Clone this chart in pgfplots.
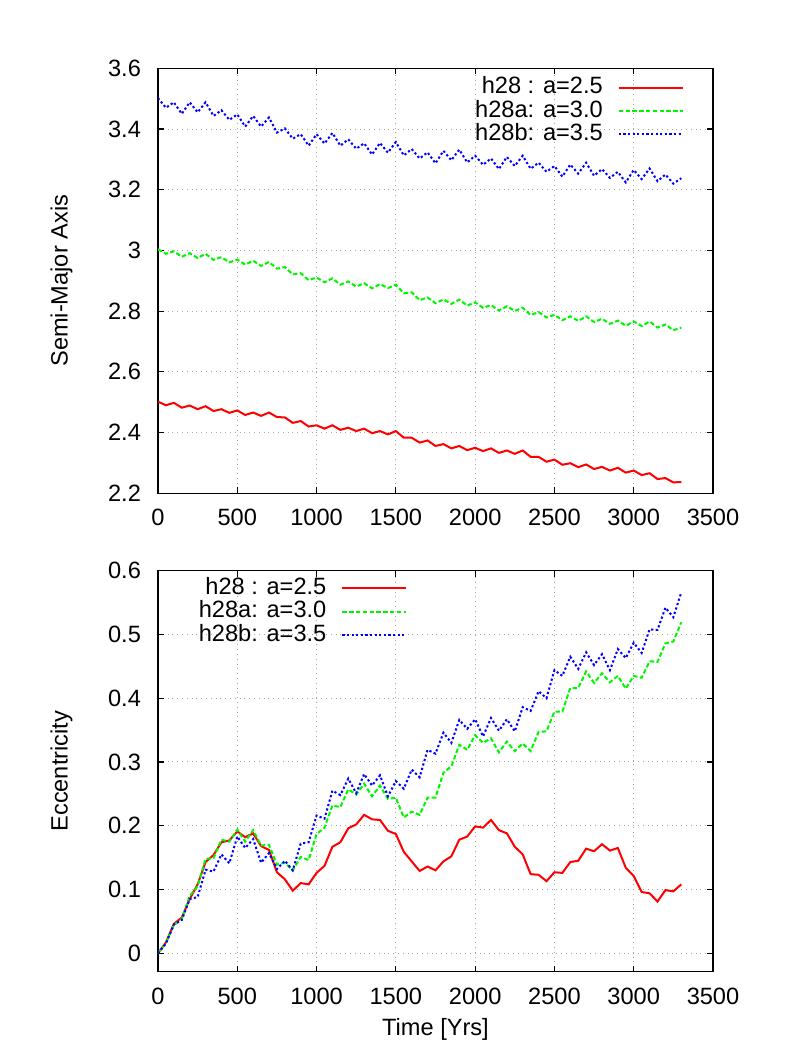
\documentclass[border=0pt]{standalone}
\usepackage{fontspec}
\setmainfont{Liberation Sans}
\usepackage{pgfplots}
\pgfplotsset{compat=1.18}

\definecolor{gpred}{RGB}{255,0,0}
\definecolor{gpgreen}{RGB}{0,245,0}
\definecolor{gpblue}{RGB}{0,0,255}

\pgfplotsset{
  gpaxis/.style={
    scale only axis,
    width=277.5pt,
    xmin=0, xmax=3500,
    xtick={0,500,...,3500},
    grid=major,
    grid style={gray!70, dotted, line width=0.5pt},
    axis line style={line width=0.6pt},
    major tick length=3pt,
    tick style={black, line width=0.6pt},
    tick align=inside,
    ticklabel style={font=\fontsize{11.8}{13}\selectfont},
    label style={font=\fontsize{11.8}{13}\selectfont},
    /pgf/number format/assume math mode=true,
    /pgf/number format/set thousands separator={},
    scaled ticks=false,
    xticklabel style={yshift=-4.5pt},
    yticklabel style={xshift=-5pt},
    legend cell align=right,
    legend plot pos=right,
    legend image code/.code={\path (0pt,0pt); \draw[##1] (7.5pt,0pt) -- (39.5pt,0pt);},
    legend style={draw=none, fill=none, inner sep=0pt, row sep=0pt,
      font=\fontsize{11.8}{13}\selectfont,
      nodes={inner xsep=0pt, inner ysep=0.3pt, text height=8.6pt, text depth=2.5pt}},
  },
  redline/.style={gpred, line width=1pt},
  greenline/.style={gpgreen, line width=1pt, dash pattern=on 2.2pt off 1.2pt},
  blueline/.style={gpblue, line width=1pt, dash pattern=on 1.1pt off 1.2pt},
}

\begin{document}
\begin{tikzpicture}
\path[use as bounding box] (0pt,0pt) rectangle (394.5pt,527pt);

% ---------- top panel: semi-major axis ----------
\begin{axis}[gpaxis,
  at={(79pt,280.35pt)}, anchor=south west,
  height=212.5pt,
  ymin=2.2, ymax=3.6,
  ytick={2.2,2.4,...,3.6},
  yticklabel style={/pgf/number format/fixed, /pgf/number format/precision=1},
  ylabel={Semi-Major Axis},
  ylabel style={at={(axis description cs:-0.174,0.5)}, anchor=center},
  legend style={at={(axis description cs:0.948,0.983)}, anchor=north east},
]
\addplot[redline] table {
0 2.502
50 2.490
100 2.498
150 2.482
200 2.489
250 2.477
300 2.487
350 2.471
400 2.477
450 2.465
500 2.473
550 2.458
600 2.466
650 2.455
700 2.466
750 2.451
800 2.450
850 2.432
900 2.438
950 2.420
1000 2.424
1050 2.413
1100 2.424
1150 2.409
1200 2.416
1250 2.405
1300 2.413
1350 2.398
1400 2.405
1450 2.394
1500 2.405
1550 2.383
1600 2.383
1650 2.367
1700 2.374
1750 2.356
1800 2.362
1850 2.348
1900 2.356
1950 2.342
2000 2.350
2050 2.339
2100 2.348
2150 2.333
2200 2.341
2250 2.330
2300 2.341
2350 2.320
2400 2.320
2450 2.304
2500 2.311
2550 2.294
2600 2.299
2650 2.286
2700 2.295
2750 2.280
2800 2.287
2850 2.275
2900 2.284
2950 2.268
3000 2.275
3050 2.260
3100 2.266
3150 2.247
3200 2.250
3250 2.236
3300 2.237
};
\addlegendentry{h28 : a=2.5}
\addplot[greenline] table {
0 3.004
50 2.989
100 2.997
150 2.979
200 2.991
250 2.975
300 2.989
350 2.969
400 2.978
450 2.961
500 2.970
550 2.953
600 2.966
650 2.949
700 2.962
750 2.940
800 2.945
850 2.921
900 2.925
950 2.902
1000 2.911
1050 2.895
1100 2.908
1150 2.887
1200 2.898
1250 2.881
1300 2.892
1350 2.875
1400 2.889
1450 2.876
1500 2.887
1550 2.859
1600 2.862
1650 2.836
1700 2.845
1750 2.826
1800 2.839
1850 2.824
1900 2.838
1950 2.818
2000 2.829
2050 2.811
2100 2.820
2150 2.802
2200 2.816
2250 2.801
2300 2.811
2350 2.787
2400 2.797
2450 2.779
2500 2.788
2550 2.770
2600 2.783
2650 2.768
2700 2.783
2750 2.764
2800 2.775
2850 2.758
2900 2.769
2950 2.752
3000 2.766
3050 2.751
3100 2.766
3150 2.746
3200 2.756
3250 2.737
3300 2.746
};
\addlegendentry{h28a: a=3.0}
\addplot[blueline] table {
0 3.502
50 3.470
100 3.488
150 3.450
200 3.488
250 3.455
300 3.488
350 3.443
400 3.462
450 3.430
500 3.448
550 3.408
600 3.443
650 3.408
700 3.438
750 3.388
800 3.402
850 3.368
900 3.383
950 3.345
1000 3.383
1050 3.352
1100 3.387
1150 3.345
1200 3.366
1250 3.335
1300 3.353
1350 3.316
1400 3.354
1450 3.322
1500 3.357
1550 3.313
1600 3.334
1650 3.303
1700 3.323
1750 3.287
1800 3.328
1850 3.297
1900 3.332
1950 3.290
2000 3.312
2050 3.282
2100 3.303
2150 3.268
2200 3.308
2250 3.278
2300 3.312
2350 3.269
2400 3.289
2450 3.259
2500 3.278
2550 3.243
2600 3.283
2650 3.253
2700 3.289
2750 3.246
2800 3.268
2850 3.239
2900 3.259
2950 3.224
3000 3.265
3050 3.235
3100 3.270
3150 3.228
3200 3.250
3250 3.220
3300 3.238
};
\addlegendentry{h28b: a=3.5}
\end{axis}

% ---------- bottom panel: eccentricity ----------
\begin{axis}[gpaxis,
  at={(79pt,41.15pt)}, anchor=south west,
  height=200.5pt,
  ymin=-0.029, ymax=0.6,
  ytick={0,0.1,...,0.6},
  yticklabel style={/pgf/number format/fixed, /pgf/number format/precision=1},
  ylabel={Eccentricity},
  ylabel style={at={(axis description cs:-0.174,0.5)}, anchor=center},
  xlabel={Time [Yrs]},
  xlabel style={at={(axis description cs:0.5,-0.145)}, anchor=center},
  legend style={at={(axis description cs:0.450,0.986)}, anchor=north east},
]
\addplot[redline] table {
0 0.000
50 0.017
100 0.046
150 0.056
200 0.085
250 0.108
300 0.143
350 0.154
400 0.174
450 0.177
500 0.191
550 0.182
600 0.188
650 0.168
700 0.162
750 0.127
800 0.116
850 0.098
900 0.110
950 0.108
1000 0.126
1050 0.137
1100 0.167
1150 0.174
1200 0.196
1250 0.202
1300 0.217
1350 0.210
1400 0.209
1450 0.192
1500 0.187
1550 0.159
1600 0.144
1650 0.129
1700 0.136
1750 0.130
1800 0.144
1850 0.152
1900 0.178
1950 0.183
2000 0.199
2050 0.197
2100 0.209
2150 0.193
2200 0.188
2250 0.167
2300 0.155
2350 0.124
2400 0.123
2450 0.113
2500 0.127
2550 0.126
2600 0.143
2650 0.145
2700 0.164
2750 0.160
2800 0.171
2850 0.161
2900 0.165
2950 0.134
3000 0.121
3050 0.096
3100 0.094
3150 0.081
3200 0.099
3250 0.097
3300 0.108
};
\addlegendentry{h28 : a=2.5}
\addplot[greenline] table {
0 0.000
50 0.016
100 0.044
150 0.054
200 0.090
250 0.105
300 0.148
350 0.149
400 0.178
450 0.175
500 0.194
550 0.175
600 0.193
650 0.169
700 0.170
750 0.139
800 0.142
850 0.130
900 0.151
950 0.146
1000 0.187
1050 0.197
1100 0.232
1150 0.229
1200 0.257
1250 0.249
1300 0.266
1350 0.246
1400 0.263
1450 0.242
1500 0.244
1550 0.213
1600 0.222
1650 0.217
1700 0.244
1750 0.244
1800 0.283
1850 0.293
1900 0.327
1950 0.319
2000 0.342
2050 0.330
2100 0.337
2150 0.315
2200 0.332
2250 0.317
2300 0.329
2350 0.317
2400 0.347
2450 0.348
2500 0.379
2550 0.379
2600 0.416
2650 0.416
2700 0.442
2750 0.424
2800 0.439
2850 0.425
2900 0.435
2950 0.415
3000 0.435
3050 0.432
3100 0.458
3150 0.457
3200 0.486
3250 0.489
3300 0.519
};
\addlegendentry{h28a: a=3.0}
\addplot[blueline] table {
0 0.000
50 0.015
100 0.045
150 0.052
200 0.085
250 0.088
300 0.131
350 0.128
400 0.155
450 0.141
500 0.183
550 0.165
600 0.179
650 0.142
700 0.157
750 0.132
800 0.145
850 0.130
900 0.172
950 0.174
1000 0.216
1050 0.211
1100 0.255
1150 0.248
1200 0.274
1250 0.251
1300 0.281
1350 0.263
1400 0.279
1450 0.246
1500 0.270
1550 0.258
1600 0.288
1650 0.276
1700 0.319
1750 0.313
1800 0.346
1850 0.330
1900 0.366
1950 0.352
2000 0.367
2050 0.340
2100 0.369
2150 0.349
2200 0.367
2250 0.348
2300 0.386
2350 0.380
2400 0.411
2450 0.400
2500 0.444
2550 0.435
2600 0.465
2650 0.446
2700 0.472
2750 0.452
2800 0.469
2850 0.444
2900 0.477
2950 0.463
3000 0.487
3050 0.471
3100 0.508
3150 0.507
3200 0.542
3250 0.527
3300 0.566
};
\addlegendentry{h28b: a=3.5}
\end{axis}
\end{tikzpicture}
\end{document}
